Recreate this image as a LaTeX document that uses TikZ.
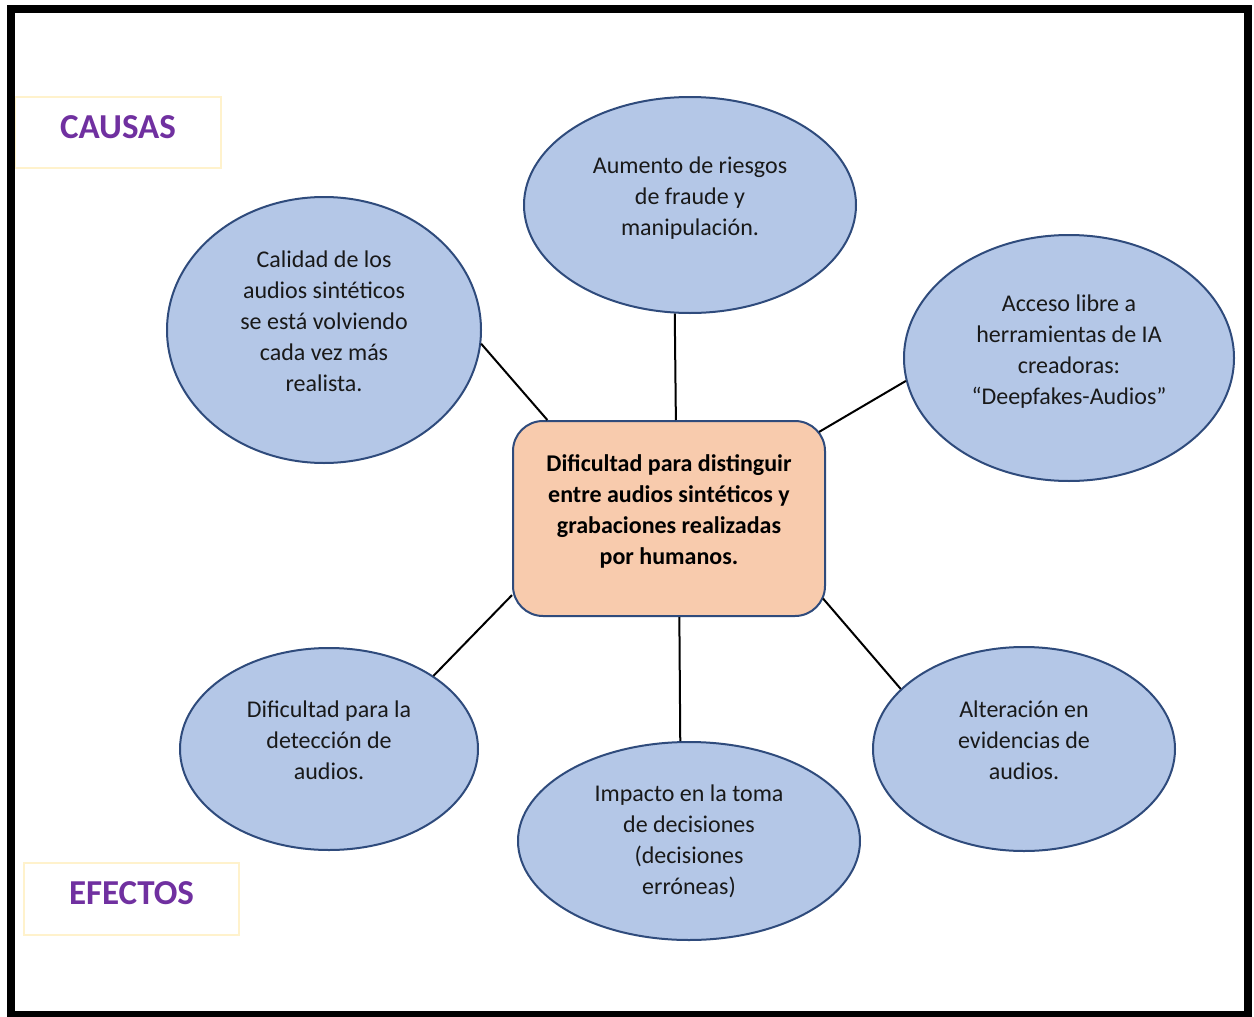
\documentclass[tikz,border=0pt]{standalone}
\usepackage{fontspec}
\setmainfont{Carlito}
\usepackage{tikz}
\usetikzlibrary{shapes.geometric}

\definecolor{burbuja}{HTML}{B4C7E7}
\definecolor{borde}{HTML}{2F4B7C}
\definecolor{durazno}{HTML}{F8CBAD}
\definecolor{morado}{HTML}{7030A0}
\definecolor{crema}{HTML}{FFF2CC}

\begin{document}
\begin{tikzpicture}[x=1pt, y=-1pt,
		burbuja/.style={ellipse, draw=borde, line width=2pt, fill=burbuja, inner sep=0pt, align=center, font=\fontsize{24}{31}\selectfont, text=black!90},
		subir/.style={text depth=17pt},
		centro/.style={rectangle, rounded corners=30pt, draw=borde, line width=2pt, fill=durazno, minimum width=312pt, minimum height=195pt, align=center, font=\fontsize{24}{31}\selectfont\bfseries},
		rotulo/.style={rectangle, draw=crema, line width=2pt, text=morado, text depth=11pt, font=\fontsize{35}{40}\selectfont\bfseries},
		enlace/.style={line width=2pt, black}]
		\useasboundingbox (0,0) rectangle (1254,1017);
		\fill[white] (0,0) rectangle (1254,1017);
		
		% problema central
		\node[centro, subir] (problema) at (669,518.5) {Dificultad para distinguir\\entre audios sintéticos y\\grabaciones realizadas\\por humanos.};
		
		% causas
		\node[burbuja, subir, minimum width=314pt, minimum height=266pt] (calidad) at (324,330) {Calidad de los\\audios sintéticos\\se está volviendo\\cada vez más\\realista.};
		\node[burbuja, subir, minimum width=332pt, minimum height=216pt] (riesgos) at (690,205) {Aumento de riesgos\\de fraude y\\manipulación.};
		\node[burbuja, subir, minimum width=330pt, minimum height=246pt] (acceso) at (1069,358) {Acceso libre a\\herramientas de IA\\creadoras:\\“Deepfakes-Audios”};
		
		% efectos
		\node[burbuja, subir, minimum width=298pt, minimum height=202pt] (deteccion) at (329,749) {Dificultad para la\\detección de\\audios.};
		\node[burbuja, minimum width=342pt, minimum height=198pt] (impacto) at (689,841) {Impacto en la toma\\de decisiones\\(decisiones\\erróneas)};
		\node[burbuja, subir, minimum width=302pt, minimum height=204pt] (alteracion) at (1024,749) {Alteración en\\evidencias de\\audios.};
		
		% rotulos
		\node[rotulo, minimum width=206pt, minimum height=71pt] (causas) at (118,132.5) {CAUSAS};
		\node[rotulo, minimum width=215pt, minimum height=72pt] (efectos) at (131.5,899) {EFECTOS};
		
		% enlaces
		\draw[enlace] (calidad.-5.5) -- (problema.141.6);
		\draw[enlace] (riesgos.-98) -- (problema.86.5);
		\draw[enlace, shorten >=-8pt] (acceso.188) -- (problema.30.4);
		\draw[enlace] (deteccion.35) -- (problema.206.6);
		\draw[enlace] (impacto.95.8) -- (problema.-84);
		\draw[enlace, shorten >=-4.5pt] (alteracion.154) -- (problema.-28.5);
		
		% marco
		\draw[line width=8pt] (11,9) rectangle (1248,1015);
\end{tikzpicture}
\end{document}
